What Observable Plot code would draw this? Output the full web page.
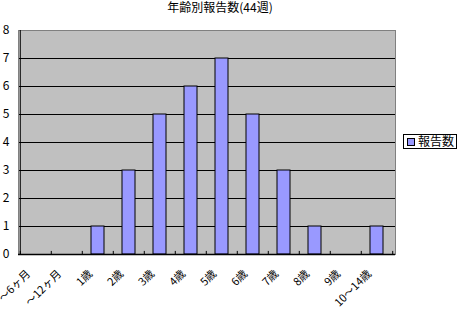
<!DOCTYPE html>
<html><head><meta charset="utf-8">
<script src="https://cdn.jsdelivr.net/npm/d3@7"></script>
<script src="https://cdn.jsdelivr.net/npm/@observablehq/plot@0.6"></script>
<style>
body{margin:0;background:#fff;font-family:"Noto Sans CJK JP","Noto Sans",sans-serif;}
#wrap{position:relative;width:459px;height:311px;overflow:hidden;}
#title{position:absolute;left:0;width:440px;top:0px;text-align:center;font-size:12px;line-height:14px;color:#000;}
#legend{position:absolute;left:403px;top:134px;width:52px;height:13px;border:1px solid #000;background:#fff;font-size:12px;line-height:13px;}
#legend .sw{position:absolute;left:3px;top:3px;width:6px;height:6px;background:#9999FF;border:1px solid #000;}
#legend .lb{position:absolute;left:14px;top:-1px;}
</style></head>
<body><div id="wrap"><div id="chart"></div><div id="title">年齢別報告数(44週)</div><div id="legend"><div class="sw"></div><div class="lb">報告数</div></div></div>
<script>
const categories = ["～6ヶ月","～12ヶ月","1歳","2歳","3歳","4歳","5歳","6歳","7歳","8歳","9歳","10～14歳"];
const values = [0,0,1,3,5,6,7,5,3,1,0,1];
const yTicks = [0,1,2,3,4,5,6,7,8];
const seriesName = "報告数";
const data = categories.map((c,i)=>({cat:c, v:values[i]}));
const W = 459, H = 311, mL = 18, mR = 64, mT = 30, mB = 57;
const step = (W - mL - mR) / categories.length;
const chart = Plot.plot({
  width: W, height: H,
  marginLeft: mL, marginRight: mR, marginTop: mT, marginBottom: mB,
  style: {fontFamily: '"Noto Sans CJK JP","Noto Sans",sans-serif', background: "transparent", overflow: "visible"},
  x: {domain: categories, paddingInner: 0.58, paddingOuter: 0.29, align: 0.5, axis: null},
  y: {domain: [0, 8], axis: null},
  marks: [
    Plot.frame({fill: "#C0C0C0", stroke: "none"}),
    Plot.ruleY(yTicks.filter(d => d > 0 && d < 8), {stroke: "#000", strokeWidth: 1}),
    Plot.barY(data, {x: "cat", y: "v", fill: "#9999FF", stroke: "#000", strokeWidth: 1}),
    Plot.frame({stroke: "#808080", strokeWidth: 1}),
    Plot.ruleY([0], {stroke: "#000", strokeWidth: 1.5}),
    Plot.ruleX([categories[0]], {x: d => d, dx: -step/2, y1: 0, y2: 8, stroke: "#000"}),
    Plot.ruleX(categories, {x: d => d, dx: -step/2, y1: 0, y2: 0.11, stroke: "#000"}),
    Plot.ruleX([categories[categories.length-1]], {x: d => d, dx: step/2, y1: 0, y2: 0.11, stroke: "#000"}),
    Plot.axisY(yTicks, {tickSize: 0, tickPadding: 9, fontSize: 12, label: null, fill: "#000"}),
    Plot.text(categories, {x: d => d, frameAnchor: "bottom", y: null, text: d => d, rotate: -45, textAnchor: "end", fontSize: 11, dx: -5, dy: 20, fill: "#000"})
  ]
});
document.getElementById("chart").appendChild(chart);
</script></body></html>
